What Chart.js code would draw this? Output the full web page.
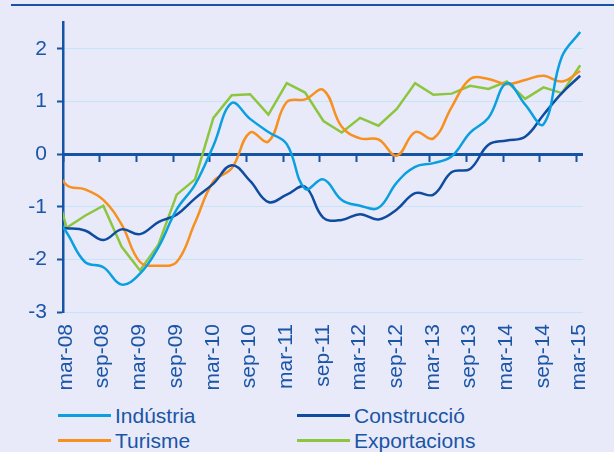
<!DOCTYPE html>
<html>
<head>
<meta charset="utf-8">
<script src="https://cdn.jsdelivr.net/npm/chart.js@4"></script>
<style>
    body { margin: 0; background: #e8eafa; font-family: "Liberation Sans", Arial, sans-serif; }
    #wrap { position: relative; width: 614px; height: 452px; overflow: hidden; }
    #top-rule { position: absolute; left: 11px; top: 4px; width: 603px; height: 2px; background: #1553a5; }
    #chart { position: absolute; left: 0; top: 0; }
    #legend { position: absolute; left: 58px; top: 403px; display: grid; grid-template-columns: 239px auto; grid-auto-rows: 25px; }
    .item { display: flex; align-items: center; color: #1a55a6; font-size: 21px; white-space: nowrap; }
    .item .swatch { display: inline-block; width: 53px; height: 3px; margin-right: 4px; }
</style>
</head>
<body>
<div id="wrap">
    <div id="top-rule"></div>
    <canvas id="chart" width="614" height="400"></canvas>
    <div id="legend"></div>
</div>
<script>
// quarterly readings, placed in months counted from mar-08
const quarterMonths = [-2.4, 0.6, 3.6, 6.6, 9.6, 12.6, 15.6, 18.6, 21.6, 24.6, 27.6, 30.6, 33.6, 36.6, 39.6,
    42.6, 45.6, 48.6, 51.6, 54.6, 57.6, 60.6, 63.6, 66.6, 69.6, 72.6, 75.6, 78.6, 81.6, 84.6];

const industria = [-1.0, -1.49, -2.05, -2.15, -2.48, -2.27, -1.77, -1.05, -0.58, 0.16, 0.97, 0.67, 0.42, 0.19, -0.66,
    -0.48, -0.87, -0.98, -1.02, -0.54, -0.24, -0.17, -0.04, 0.41, 0.69, 1.35, 0.94, 0.57, 1.85, 2.32];
const construccio = [-1.4, -1.41, -1.45, -1.63, -1.43, -1.52, -1.29, -1.15, -0.84, -0.56, -0.21, -0.51, -0.91, -0.77, -0.62,
    -1.21, -1.25, -1.14, -1.24, -1.05, -0.74, -0.77, -0.34, -0.28, 0.18, 0.26, 0.33, 0.75, 1.16, 1.49];
const turisme = [0.0, -0.59, -0.67, -0.87, -1.34, -2.05, -2.12, -2.05, -1.30, -0.52, -0.27, 0.41, 0.24, 0.99, 1.04,
    1.22, 0.52, 0.30, 0.28, -0.03, 0.42, 0.30, 0.90, 1.43, 1.43, 1.33, 1.41, 1.49, 1.38, 1.58];
const exportacions = [-0.15, -1.4, -1.17, -0.98, -1.76, -2.21, -1.72, -0.77, -0.48, 0.69, 1.12, 1.14, 0.75, 1.35, 1.17,
    0.63, 0.41, 0.69, 0.54, 0.86, 1.35, 1.13, 1.15, 1.30, 1.24, 1.38, 1.05, 1.27, 1.16, 1.69];

const tickMonths = [0, 6, 12, 18, 24, 30, 36, 42, 48, 54, 60, 66, 72, 78, 84];
const tickLabels = ['mar-08', 'sep-08', 'mar-09', 'sep-09', 'mar-10', 'sep-10', 'mar-11', 'sep-11',
    'mar-12', 'sep-12', 'mar-13', 'sep-13', 'mar-14', 'sep-14', 'mar-15'];
const yTicks = [-3, -2, -1, 0, 1, 2];

const AXIS_COLOR = '#1553a5';
const TEXT_COLOR = '#1a55a6';
const GRID_COLOR = '#c6e3f7';
const FONT = { family: '"Liberation Sans", Arial, sans-serif', size: 21 };

const toPoints = (values) => quarterMonths.map((m, i) => ({ x: m, y: values[i] }));

const series = [
    { label: 'Indústria', values: industria, color: '#0aa0e0', tension: 0.4 },
    { label: 'Construcció', values: construccio, color: '#0f4c9f', tension: 0.4 },
    { label: 'Turisme', values: turisme, color: '#f7901e', tension: 0.4 },
    { label: 'Exportacions', values: exportacions, color: '#8cc63f', tension: 0 },
];

const fixTicks = (values) => (axis) => {
    axis.ticks = values.map(v => ({ value: v }));
};

const chart = new Chart(document.getElementById('chart'), {
    type: 'line',
    data: {
        datasets: series.map(s => ({
            label: s.label,
            data: toPoints(s.values),
            borderColor: s.color,
            backgroundColor: s.color,
            borderWidth: 2.5,
            tension: s.tension,
            pointRadius: 0,
            xAxisID: 'x',
            yAxisID: 'y',
        }))
    },
    options: {
        animation: false,
        responsive: false,
        layout: { padding: { top: 18, right: 24, left: 0, bottom: 0 } },
        plugins: {
            legend: { display: false },
            tooltip: { enabled: false },
        },
        scales: {
            x: {
                type: 'linear',
                min: 0,
                max: 85,
                afterBuildTicks: fixTicks(tickMonths),
                afterFit: (axis) => { axis.height = 88; },
                grid: { display: false, drawTicks: false },
                border: { display: false },
                ticks: {
                    autoSkip: false,
                    minRotation: 90,
                    maxRotation: 90,
                    padding: 12,
                    labelOffset: 3,
                    color: TEXT_COLOR,
                    font: FONT,
                    callback: (value, index) => tickLabels[index],
                },
            },
            // axis line through zero with its tick marks
            zero: {
                type: 'linear',
                axis: 'x',
                position: { y: 0 },
                min: 0,
                max: 85,
                afterBuildTicks: fixTicks(tickMonths),
                grid: { drawOnChartArea: false, tickLength: 6, tickWidth: 2, tickColor: AXIS_COLOR },
                border: { color: AXIS_COLOR, width: 3 },
                ticks: { display: false },
            },
            y: {
                min: -3,
                max: 2.5,
                afterBuildTicks: fixTicks(yTicks),
                afterFit: (axis) => { axis.width = 63; },
                grid: { color: GRID_COLOR, lineWidth: 1, tickLength: 6, tickWidth: 2, tickColor: AXIS_COLOR },
                border: { color: AXIS_COLOR, width: 2.5 },
                ticks: { padding: 10, color: TEXT_COLOR, font: FONT },
            },
        },
    },
});

// legend in two columns under the chart
const legend = document.getElementById('legend');
chart.data.datasets.forEach(ds => {
    const item = document.createElement('div');
    item.className = 'item';
    item.innerHTML = `<span class="swatch" style="background:${ds.borderColor}"></span>${ds.label}`;
    legend.appendChild(item);
});
</script>
</body>
</html>
